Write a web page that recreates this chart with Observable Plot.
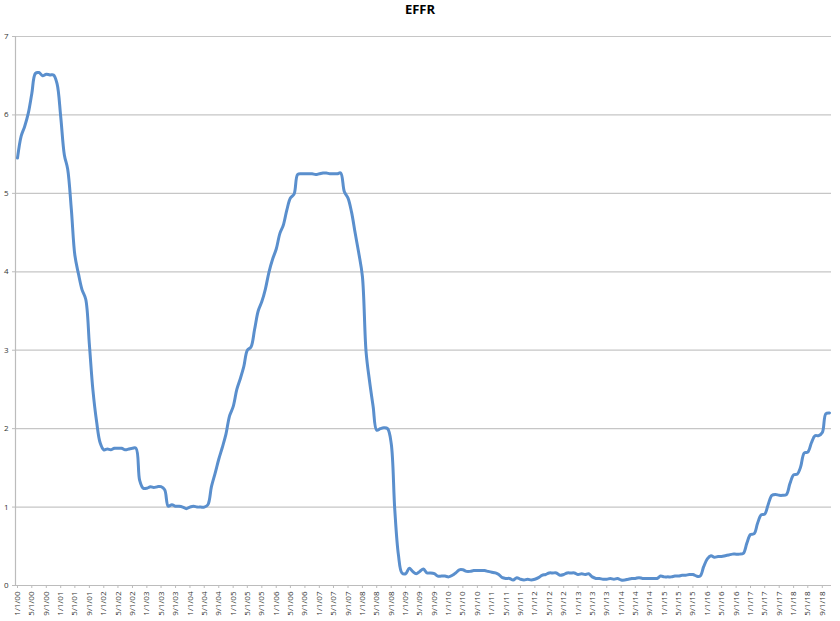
<!DOCTYPE html>
<html>
<head>
<meta charset="utf-8">
<script src="https://cdn.jsdelivr.net/npm/d3@7"></script>
<script src="https://cdn.jsdelivr.net/npm/@observablehq/plot@0.6"></script>
<style>
  body { margin: 0; background: #fff; }
  #title { height: 28px; line-height: 28px; text-align: center; font: bold 13px "Open Sans", "Liberation Sans", sans-serif; color: #000; }
  #chart svg { display: block; }
</style>
</head>
<body>
<div id="title">EFFR</div>
<div id="chart"></div>
<script>
// Monthly effective federal funds rate, Jan 2000 – Nov 2018
const startYear = 2000;
const effr = [
  5.45, 5.73, 5.85, 6.02, 6.27, 6.53, 6.54, 6.50, 6.52, 6.51, 6.51, 6.40, // 2000
  5.98, 5.49, 5.31, 4.80, 4.21, 3.97, 3.77, 3.65, 3.07, 2.49, 2.09, 1.82, // 2001
  1.73, 1.74, 1.73, 1.75, 1.75, 1.75, 1.73, 1.74, 1.75, 1.75, 1.34, 1.24, // 2002
  1.24, 1.26, 1.25, 1.26, 1.26, 1.22, 1.01, 1.03, 1.01, 1.01, 1.00, 0.98, // 2003
  1.00, 1.01, 1.00, 1.00, 1.00, 1.03, 1.26, 1.43, 1.61, 1.76, 1.93, 2.16, // 2004
  2.28, 2.50, 2.63, 2.79, 3.00, 3.04, 3.26, 3.50, 3.62, 3.78, 4.00, 4.16, // 2005
  4.29, 4.49, 4.59, 4.79, 4.94, 4.99, 5.24, 5.25, 5.25, 5.25, 5.25, 5.24, // 2006
  5.25, 5.26, 5.26, 5.25, 5.25, 5.25, 5.26, 5.02, 4.94, 4.76, 4.49, 4.24, // 2007
  3.94, 2.98, 2.61, 2.28, 1.98, 2.00, 2.01, 2.00, 1.81, 0.97, 0.39, 0.16, // 2008
  0.15, 0.22, 0.18, 0.15, 0.18, 0.21, 0.16, 0.16, 0.15, 0.12, 0.12, 0.12, // 2009
  0.11, 0.13, 0.16, 0.20, 0.20, 0.18, 0.18, 0.19, 0.19, 0.19, 0.19, 0.18, // 2010
  0.17, 0.16, 0.14, 0.10, 0.09, 0.09, 0.07, 0.10, 0.08, 0.07, 0.08, 0.07, // 2011
  0.08, 0.10, 0.13, 0.14, 0.16, 0.16, 0.16, 0.13, 0.14, 0.16, 0.16, 0.16, // 2012
  0.14, 0.15, 0.14, 0.15, 0.11, 0.09, 0.09, 0.08, 0.08, 0.09, 0.08, 0.09, // 2013
  0.07, 0.07, 0.08, 0.09, 0.09, 0.10, 0.09, 0.09, 0.09, 0.09, 0.09, 0.12, // 2014
  0.11, 0.11, 0.11, 0.12, 0.12, 0.13, 0.13, 0.14, 0.14, 0.12, 0.12, 0.24, // 2015
  0.34, 0.38, 0.36, 0.37, 0.37, 0.38, 0.39, 0.40, 0.40, 0.40, 0.41, 0.54, // 2016
  0.65, 0.66, 0.79, 0.90, 0.91, 1.04, 1.15, 1.16, 1.15, 1.15, 1.16, 1.30, // 2017
  1.41, 1.42, 1.51, 1.69, 1.70, 1.82, 1.91, 1.91, 1.95, 2.19, 2.20       // 2018
];
const yTicks = [0, 1, 2, 3, 4, 5, 6, 7];
const tickEveryMonths = 4;

const data = effr.map((v, i) => ({ date: new Date(Date.UTC(startYear, i, 1)), v }));
const first = data[0].date, last = data[data.length - 1].date;
const xTicks = d3.utcMonth.every(tickEveryMonths).range(first, last);
const fmt = d => `${d.getUTCMonth() + 1}/${d.getUTCDate()}/${String(d.getUTCFullYear() % 100).padStart(2, "0")}`;

const chart = Plot.plot({
  width: 840,
  height: 593,
  marginTop: 8,
  marginBottom: 36,
  marginLeft: 15,
  marginRight: 9,
  style: { fontFamily: "'Open Sans', 'Liberation Sans', sans-serif", color: "#333", background: "#fff" },
  x: { type: "utc", domain: [first, last], range: [17, 829] },
  y: { domain: [0, 7] },
  marks: [
    Plot.gridY(yTicks, { stroke: "#c6c6c6", strokeOpacity: 1, strokeWidth: 1.2 }),
    Plot.frame({ anchor: "left", stroke: "#bcbcbc", strokeWidth: 1.2 }),
    Plot.ruleY([0], { stroke: "#bcbcbc", strokeWidth: 1.2 }),
    Plot.axisY(yTicks, { tickSize: 3, tickPadding: 4, fontSize: 8, stroke: "#bcbcbc", label: null, tickFormat: d => String(d) }),
    Plot.axisX(xTicks, { tickSize: 3, tickPadding: 3, tickRotate: -90, fontSize: 8, stroke: "#bcbcbc", label: null, tickFormat: fmt }),
    Plot.line(data, { x: "date", y: "v", stroke: "#5a8fcd", strokeWidth: 3, curve: "catmull-rom", strokeLinejoin: "round" })
  ]
});
document.getElementById("chart").appendChild(chart);
</script>
</body>
</html>
